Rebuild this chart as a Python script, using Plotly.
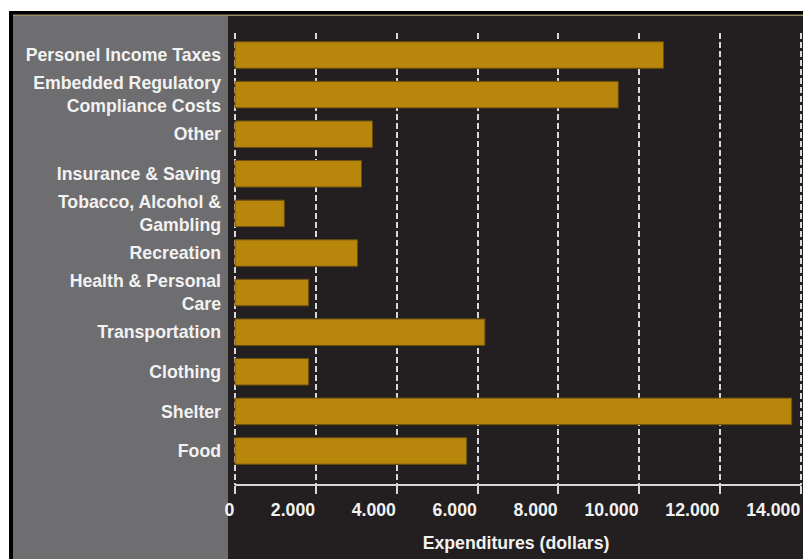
import plotly.graph_objects as go

categories = [
    "Personel Income Taxes",
    "Embedded Regulatory<br>Compliance Costs",
    "Other",
    "Insurance & Saving",
    "Tobacco, Alcohol &<br>Gambling",
    "Recreation",
    "Health & Personal<br>Care",
    "Transportation",
    "Clothing",
    "Shelter",
    "Food",
]
values = [10600, 9480, 3400, 3130, 1220, 3030, 1820, 6180, 1820, 13770, 5730]
x_ticks = [0, 2000, 4000, 6000, 8000, 10000, 12000, 14000]

W, H = 803, 559
L, R, T, B = 229, 0, 33, 74
pw, ph = W - L - R, H - T - B


def px_x(p):
    return (p - L) / pw


def px_y(p):
    return (H - B - p) / ph


FONT = "Liberation Sans, Arial, sans-serif"
TXT = "#f2f2f2"
FS = 17.7

fig = go.Figure(
    go.Bar(
        x=values,
        y=categories,
        orientation="h",
        width=0.67,
        marker=dict(color="#b8860b", line=dict(color="#6b4f10", width=1)),
    )
)

shapes = [
    dict(type="rect", xref="paper", yref="paper", x0=px_x(9), x1=px_x(W), y0=px_y(H), y1=px_y(11),
         fillcolor="#000000", line_width=0, layer="below"),
    dict(type="rect", xref="paper", yref="paper", x0=px_x(13), x1=px_x(W), y0=px_y(16), y1=px_y(14.5),
         fillcolor="#9c8a68", line_width=0, layer="below"),
    dict(type="rect", xref="paper", yref="paper", x0=px_x(13), x1=px_x(228), y0=px_y(H), y1=px_y(16),
         fillcolor="#6e6d6f", line_width=0, layer="below"),
    dict(type="rect", xref="paper", yref="paper", x0=px_x(228), x1=px_x(W), y0=px_y(H), y1=px_y(16),
         fillcolor="#231f20", line_width=0, layer="below"),
    dict(type="line", xref="x", yref="paper", x0=x_ticks[0], x1=x_ticks[-1], y0=0, y1=0,
         line=dict(color="#d8d8d8", width=2), layer="above"),
]

fig.update_layout(
    width=W, height=H,
    margin=dict(l=L, r=R, t=T, b=B, pad=0),
    paper_bgcolor="#ffffff",
    plot_bgcolor="rgba(0,0,0,0)",
    separators=",.",
    showlegend=False,
    shapes=shapes,
    font=dict(family=FONT, color=TXT, size=FS),
    xaxis=dict(
        range=[-148, 14049],
        tickvals=x_ticks,
        tickformat=",d",
        ticklabelposition="outside left",
        ticks="outside", ticklen=8, tickwidth=1.5, tickcolor="#d8d8d8",
        ticklabelstandoff=9,
        showgrid=True, gridcolor="#d8d8d8", gridwidth=1.5, griddash="6px,3px",
        zeroline=False, showline=False,
        tickfont=dict(family=FONT, size=FS, color=TXT, weight="bold"),
        title=dict(text="Expenditures (dollars)", standoff=17,
                   font=dict(family=FONT, size=FS, color=TXT, weight="bold")),
    ),
    yaxis=dict(
        categoryorder="array", categoryarray=categories,
        range=[10.859, -0.556],
        showgrid=False, zeroline=False, showline=False, ticks="",
        ticklabelstandoff=7,
        tickfont=dict(family=FONT, size=FS, color=TXT, weight="bold"),
    ),
)

fig.write_html("out.html")
